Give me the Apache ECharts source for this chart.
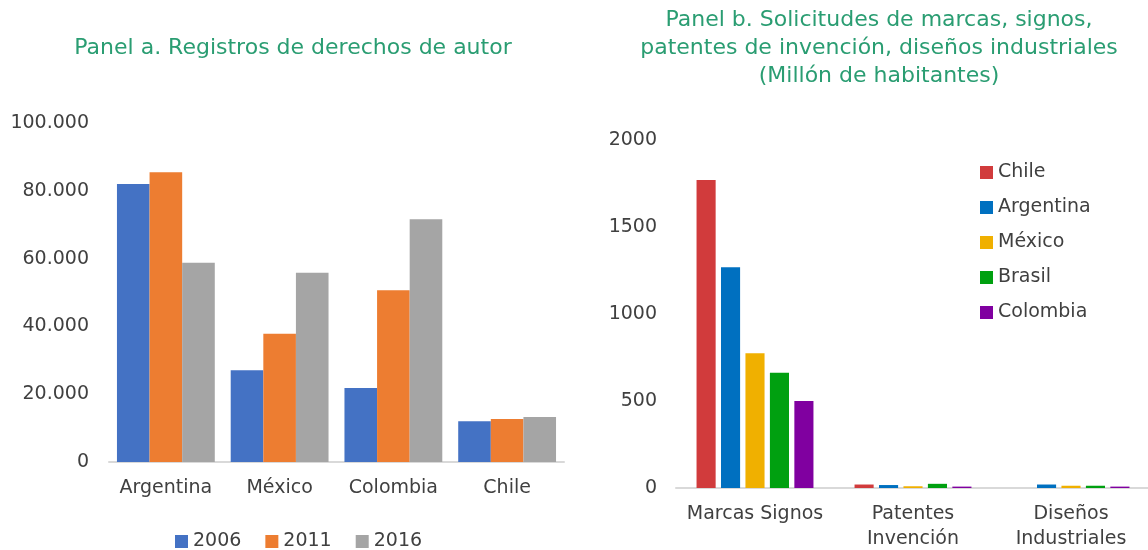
<!DOCTYPE html>
<html>
<head>
<meta charset="utf-8">
<script src="https://cdn.jsdelivr.net/npm/echarts@6/dist/echarts.min.js"></script>
<style>
  html, body { margin: 0; padding: 0; background: #fff; }
  #main { width: 1148px; height: 550px; }
</style>
</head>
<body>
<div id="main"></div>
<script>
// Panel a: registros de derechos de autor
var paisesA = ['Argentina', 'México', 'Colombia', 'Chile'];
var anios = ['2006', '2011', '2016'];
var reg2006 = [82000, 27100, 21800, 12000];
var reg2011 = [85500, 37800, 50700, 12700];
var reg2016 = [58800, 55800, 71600, 13300];

// Panel b: solicitudes por millón de habitantes
var tiposB = ['Marcas Signos', 'Patentes\nInvención', 'Diseños\nIndustriales'];
var paisesB = ['Chile', 'Argentina', 'México', 'Brasil', 'Colombia'];
var solChile = [1770, 20, 0];
var solArgentina = [1268, 17, 20];
var solMexico = [774, 10, 13];
var solBrasil = [663, 24, 13];
var solColombia = [500, 8, 8];

var font = '"DejaVu Sans", sans-serif';
var txt = '#404040';
var verde = '#2A9D72';

var chart = echarts.init(document.getElementById('main'));

function fmtMiles(v) {
	return String(v).replace(/\B(?=(\d{3})+(?!\d))/g, '.');
}

var option = {
	animation: false,
	textStyle: { fontFamily: font },
	title: [{
		text: 'Panel a. Registros de derechos de autor',
		left: 288, top: 32, textAlign: 'center',
		textStyle: { color: verde, fontSize: 22, fontWeight: 'normal', fontFamily: font }
	}, {
		text: 'Panel b. Solicitudes de marcas, signos,\npatentes de invención, diseños industriales\n(Millón de habitantes)',
		left: 874, top: 1, textAlign: 'center',
		textStyle: { color: verde, fontSize: 22, fontWeight: 'normal', lineHeight: 28, fontFamily: font }
	}],
	legend: [{
		data: anios,
		left: 170, top: 527,
		itemWidth: 13, itemHeight: 13, itemGap: 24,
		icon: 'rect',
		textStyle: { color: txt, fontSize: 19, fontFamily: font }
	}, {
		data: paisesB,
		orient: 'vertical',
		left: 975, top: 157,
		itemWidth: 13, itemHeight: 13, itemGap: 14,
		icon: 'rect',
		textStyle: { color: txt, fontSize: 19, fontFamily: font, lineHeight: 21 }
	}],
	grid: [
		{ left: 109, right: 584, top: 123, bottom: 88, outerBoundsMode: 'none' },
		{ left: 676, right: -2, top: 140, bottom: 62, outerBoundsMode: 'none' }
	],
	xAxis: [{
		gridIndex: 0, type: 'category', data: paisesA,
		axisLine: { lineStyle: { color: '#D9D9D9', width: 2 } },
		axisTick: { show: false },
		axisLabel: { color: txt, fontSize: 19, margin: 17, fontFamily: font, interval: 0 }
	}, {
		gridIndex: 1, type: 'category', data: tiposB,
		axisLine: { lineStyle: { color: '#D9D9D9', width: 2 } },
		axisTick: { show: false },
		axisLabel: { color: txt, fontSize: 19, margin: 14, lineHeight: 25, fontFamily: font, interval: 0 }
	}],
	yAxis: [{
		gridIndex: 0, type: 'value', min: 0, max: 100000, interval: 20000,
		splitLine: { show: false },
		axisLine: { show: false }, axisTick: { show: false },
		axisLabel: { color: txt, fontSize: 19, margin: 20, fontFamily: font, formatter: fmtMiles }
	}, {
		gridIndex: 1, type: 'value', min: 0, max: 2000, interval: 500,
		splitLine: { show: false },
		axisLine: { show: false }, axisTick: { show: false },
		axisLabel: { color: txt, fontSize: 19, margin: 19, fontFamily: font, formatter: function (v) { return String(v); } }
	}],
	series: [
		{ name: '2006', type: 'bar', xAxisIndex: 0, yAxisIndex: 0, data: reg2006, barGap: '0%', barCategoryGap: '14%', itemStyle: { color: '#4472C4' } },
		{ name: '2011', type: 'bar', xAxisIndex: 0, yAxisIndex: 0, data: reg2011, itemStyle: { color: '#ED7D31' } },
		{ name: '2016', type: 'bar', xAxisIndex: 0, yAxisIndex: 0, data: reg2016, itemStyle: { color: '#A5A5A5' } },
		{ name: 'Chile', type: 'bar', xAxisIndex: 1, yAxisIndex: 1, data: solChile, barGap: '28%', barCategoryGap: '26%', itemStyle: { color: '#D13B3C' } },
		{ name: 'Argentina', type: 'bar', xAxisIndex: 1, yAxisIndex: 1, data: solArgentina, itemStyle: { color: '#0070C0' } },
		{ name: 'México', type: 'bar', xAxisIndex: 1, yAxisIndex: 1, data: solMexico, itemStyle: { color: '#F0B000' } },
		{ name: 'Brasil', type: 'bar', xAxisIndex: 1, yAxisIndex: 1, data: solBrasil, itemStyle: { color: '#00A010' } },
		{ name: 'Colombia', type: 'bar', xAxisIndex: 1, yAxisIndex: 1, data: solColombia, itemStyle: { color: '#8000A0' } }
	]
};

chart.setOption(option);
</script>
</body>
</html>
